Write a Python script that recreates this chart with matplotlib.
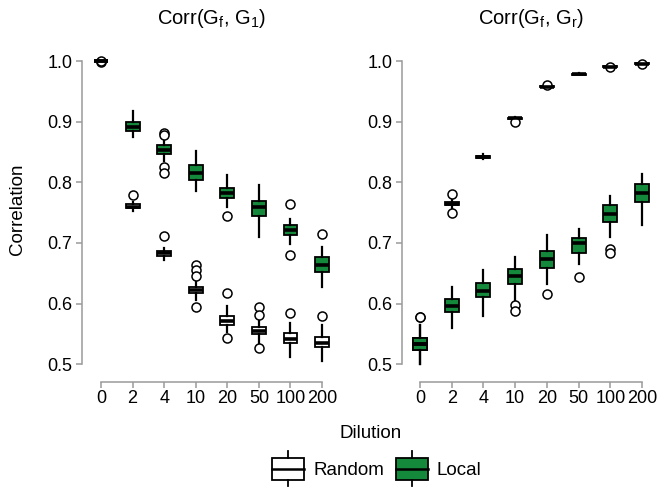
import matplotlib
matplotlib.use("Agg")
from matplotlib import pyplot as plt
from matplotlib.patches import Patch, Rectangle
from matplotlib.lines import Line2D
from matplotlib.legend_handler import HandlerBase

plt.rcParams['font.family'] = ['Liberation Sans', 'DejaVu Sans']
plt.rcParams['mathtext.fontset'] = 'custom'
plt.rcParams['mathtext.rm'] = 'Liberation Sans'
plt.rcParams['mathtext.default'] = 'regular'

dilutions = ['0', '2', '4', '10', '20', '50', '100', '200']

# Corr(Gf, G1)
g1_random_med = [1.0, 0.760, 0.683, 0.622, 0.571, 0.555, 0.541, 0.535]
g1_random_q1 = [1.0, 0.757, 0.679, 0.617, 0.565, 0.549, 0.535, 0.529]
g1_random_q3 = [1.0, 0.764, 0.687, 0.628, 0.580, 0.562, 0.551, 0.545]
g1_random_lo = [0.999, 0.752, 0.672, 0.606, 0.553, 0.535, 0.512, 0.505]
g1_random_hi = [1.0, 0.768, 0.692, 0.640, 0.596, 0.576, 0.567, 0.565]
g1_random_out = [[0.999], [0.780], [0.711], [0.664, 0.655, 0.646, 0.594],
                 [0.617, 0.543], [0.594, 0.581, 0.526], [0.585], [0.580]]

g1_local_med = [1.0, 0.891, 0.854, 0.816, 0.783, 0.759, 0.721, 0.664]
g1_local_q1 = [1.0, 0.885, 0.847, 0.804, 0.775, 0.745, 0.713, 0.652]
g1_local_q3 = [1.0, 0.899, 0.861, 0.828, 0.791, 0.770, 0.729, 0.677]
g1_local_lo = [0.999, 0.875, 0.835, 0.785, 0.760, 0.710, 0.698, 0.628]
g1_local_hi = [1.0, 0.918, 0.875, 0.852, 0.812, 0.795, 0.740, 0.693]
g1_local_out = [[1.0], [], [0.882, 0.878, 0.826, 0.816], [], [0.744], [],
                [0.765, 0.680], [0.714]]

# Corr(Gf, Gr)
gr_random_med = [0.533, 0.765, 0.842, 0.906, 0.958, 0.979, 0.991, 0.996]
gr_random_q1 = [0.524, 0.762, 0.841, 0.905, 0.957, 0.978, 0.990, 0.995]
gr_random_q3 = [0.543, 0.768, 0.844, 0.907, 0.959, 0.979, 0.992, 0.997]
gr_random_lo = [0.500, 0.758, 0.838, 0.904, 0.956, 0.977, 0.989, 0.994]
gr_random_hi = [0.565, 0.771, 0.847, 0.908, 0.960, 0.980, 0.993, 0.998]
gr_random_out = [[0.577], [0.781, 0.749], [], [0.899], [0.960], [], [0.991], [0.996]]

gr_local_med = [0.533, 0.596, 0.621, 0.645, 0.674, 0.700, 0.748, 0.783]
gr_local_q1 = [0.524, 0.586, 0.610, 0.633, 0.658, 0.683, 0.734, 0.768]
gr_local_q3 = [0.543, 0.608, 0.634, 0.657, 0.686, 0.709, 0.762, 0.798]
gr_local_lo = [0.500, 0.560, 0.580, 0.601, 0.633, 0.665, 0.710, 0.729]
gr_local_hi = [0.565, 0.628, 0.655, 0.676, 0.713, 0.723, 0.778, 0.814]
gr_local_out = [[0.577], [], [], [0.597, 0.587], [0.615], [0.644], [0.690, 0.683], []]

GREEN = '#15893b'
AXGRAY = '#9a9a9a'
FS = 13


def make_stats(med, q1, q3, lo, hi, out):
	stats = []
	for k in range(len(med)):
		stats.append(dict(med=med[k], q1=q1[k], q3=q3[k], whislo=lo[k],
						  whishi=hi[k], fliers=out[k]))
	return stats


def draw_boxes(ax, stats, color):
	ax.bxp(stats, positions=range(1, len(stats) + 1), widths=0.44,
		   patch_artist=True, showcaps=False,
		   boxprops=dict(facecolor=color, edgecolor='black', linewidth=1.3),
		   medianprops=dict(color='black', linewidth=2.6, solid_capstyle='butt'),
		   whiskerprops=dict(color='black', linewidth=1.6),
		   flierprops=dict(marker='o', markerfacecolor='white',
						   markeredgecolor='black', markersize=6.5,
						   markeredgewidth=1.1))


def style_axes(ax, xlim):
	ax.set_xlim(xlim)
	ax.set_ylim(0.4704, 1.012)
	for s in ['top', 'right']:
		ax.spines[s].set_visible(False)
	ax.spines['left'].set_bounds(0.5, 1.0)
	ax.spines['bottom'].set_bounds(1, 8)
	for s in ['left', 'bottom']:
		ax.spines[s].set_color(AXGRAY)
		ax.spines[s].set_linewidth(1.1)
	ax.set_yticks([0.5, 0.6, 0.7, 0.8, 0.9, 1.0])
	ax.set_yticklabels(['0.5', '0.6', '0.7', '0.8', '0.9', '1.0'])
	ax.set_xticks(range(1, 9))
	ax.set_xticklabels(dilutions)
	ax.tick_params(axis='both', color=AXGRAY, width=1.1, length=4,
				   labelsize=FS, pad=3)
	ax.tick_params(axis='x', pad=2)


class BoxHandler(HandlerBase):
	def create_artists(self, legend, orig_handle, xdescent, ydescent,
					   width, height, fontsize, trans):
		x0 = -xdescent
		y0 = -ydescent - 0.2 * height
		h = height * 1.4
		rect = Rectangle((x0, y0), width, h, facecolor=orig_handle.get_facecolor(),
						 edgecolor='black', linewidth=1.3, transform=trans)
		med = Line2D([x0, x0 + width], [y0 + h / 2, y0 + h / 2], color='black',
					 linewidth=1.8, transform=trans)
		wt = Line2D([x0 + width / 2, x0 + width / 2], [y0 + h, y0 + h + 0.3 * h],
					color='black', linewidth=1.3, transform=trans)
		wb = Line2D([x0 + width / 2, x0 + width / 2], [y0, y0 - 0.3 * h],
					color='black', linewidth=1.3, transform=trans)
		return [rect, med, wt, wb]


fig = plt.figure(figsize=(6.62, 4.9), dpi=100)
W, H = 662.0, 490.0
ax1 = fig.add_axes([82 / W, (H - 382) / H, (335 - 82) / W, (382 - 54) / H])
ax2 = fig.add_axes([402 / W, (H - 382) / H, (655 - 402) / W, (382 - 54) / H])

draw_boxes(ax1, make_stats(g1_random_med, g1_random_q1, g1_random_q3,
						   g1_random_lo, g1_random_hi, g1_random_out), 'white')
draw_boxes(ax1, make_stats(g1_local_med, g1_local_q1, g1_local_q3,
						   g1_local_lo, g1_local_hi, g1_local_out), GREEN)
draw_boxes(ax2, make_stats(gr_random_med, gr_random_q1, gr_random_q3,
						   gr_random_lo, gr_random_hi, gr_random_out), 'white')
draw_boxes(ax2, make_stats(gr_local_med, gr_local_q1, gr_local_q3,
						   gr_local_lo, gr_local_hi, gr_local_out), GREEN)

style_axes(ax1, (0.398, 8.41))
style_axes(ax2, (0.432, 8.41))

fig.text(211 / W, 1 - 18 / H, r'Corr(G$_f$, G$_1$)', ha='center', va='center', fontsize=14.5)
fig.text(531 / W, 1 - 18 / H, r'Corr(G$_f$, G$_r$)', ha='center', va='center', fontsize=14.5)
fig.text(18 / W, 1 - 209 / H, 'Correlation', rotation=90, ha='center', va='center',
		 fontsize=13.5)
fig.text(371 / W, 1 - 433 / H, 'Dilution', ha='center', va='center', fontsize=13.5)

handles = [Patch(facecolor='white', label='Random'), Patch(facecolor=GREEN, label='Local')]
fig.legend(handles=handles, handler_map={Patch: BoxHandler()}, loc='center',
		   bbox_to_anchor=(377 / W, 1 - 470 / H), ncol=2, frameon=False,
		   fontsize=13.5, handlelength=1.7, handleheight=0.9,
		   handletextpad=0.5, columnspacing=0.6)

fig.savefig('out.png', dpi=100)
